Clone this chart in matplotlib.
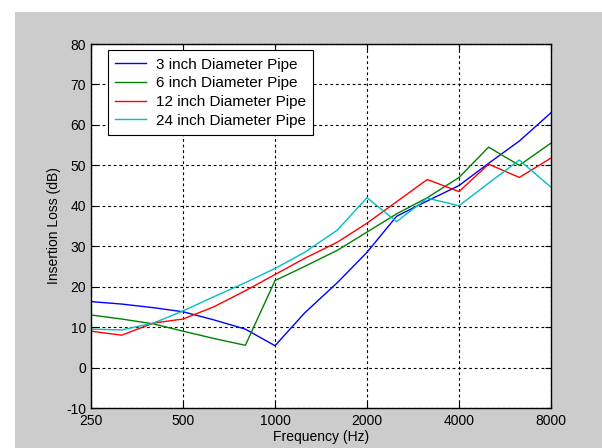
import matplotlib
matplotlib.use("Agg")
import matplotlib.pyplot as plt
from matplotlib.patches import Rectangle
from matplotlib.ticker import FixedLocator, NullLocator

plt.rcParams["font.family"] = ["Liberation Sans", "DejaVu Sans"]
plt.rcParams["axes.unicode_minus"] = False

# 1/3-octave band centre frequencies (Hz)
freqs = [250, 315, 400, 500, 630, 800, 1000, 1250, 1600, 2000,
         2500, 3150, 4000, 5000, 6300, 8000]

# Insertion loss (dB) per pipe diameter
loss_3in = [16.3, 15.7, 14.8, 13.8, 11.8, 9.5, 5.4, 13.5, 21.0, 28.5,
            37.4, 41.2, 45.0, 50.5, 56.0, 63.0]
loss_6in = [13.0, 12.0, 10.8, 9.0, 7.2, 5.5, 21.5, 25.0, 29.0, 33.5,
            38.0, 42.0, 47.0, 54.5, 50.0, 55.5]
loss_12in = [9.0, 8.0, 11.0, 12.0, 15.0, 19.0, 23.0, 27.0, 31.0, 35.7,
             41.0, 46.5, 43.5, 50.3, 47.0, 51.8]
loss_24in = [9.5, 9.3, 11.0, 14.0, 17.5, 21.0, 24.5, 28.5, 34.0, 42.0,
             36.1, 41.9, 40.0, 45.6, 51.3, 44.6]

series = [
    ("3 inch Diameter Pipe", loss_3in, (0.0, 0.0, 1.0)),
    ("6 inch Diameter Pipe", loss_6in, (0.0, 0.5, 0.0)),
    ("12 inch Diameter Pipe", loss_12in, (1.0, 0.0, 0.0)),
    ("24 inch Diameter Pipe", loss_24in, (0.0, 0.75, 0.75)),
]

xticks = [250, 500, 1000, 2000, 4000, 8000]
yticks = list(range(-10, 81, 10))

fig = plt.figure(figsize=(6.02, 4.48), dpi=100, facecolor="white")
# grey figure area (screenshot has a thin white margin top/left)
fig.patches.append(Rectangle((15 / 602, 0), 1 - 15 / 602, 1 - 12 / 448,
                             transform=fig.transFigure, facecolor="#cccccc",
                             edgecolor="none", zorder=-10))

ax = fig.add_axes([91 / 602, 40 / 448, 460 / 602, 364 / 448])
ax.set_facecolor("white")

for label, vals, col in series:
    ax.plot(freqs, vals, color=col, lw=1.0, label=label)

ax.set_xscale("log")
ax.set_xlim(250, 8000)
ax.set_ylim(-10, 80)
ax.xaxis.set_major_locator(FixedLocator(xticks))
ax.xaxis.set_minor_locator(NullLocator())
ax.set_xticklabels([str(t) for t in xticks])
ax.set_yticks(yticks)

ax.grid(True, which="major", color="black", linestyle=(0, (2.5, 2.5)), lw=0.8)
ax.tick_params(direction="in", top=True, right=True, length=4,
               labelsize=10, colors="black")
ax.tick_params(axis="x", pad=4)
ax.tick_params(axis="y", pad=3.5)
for s in ax.spines.values():
    s.set_color("black")
    s.set_linewidth(1.0)

ax.set_xlabel("Frequency (Hz)", fontsize=10, labelpad=2)
ax.set_ylabel("Insertion Loss (dB)", fontsize=10, labelpad=4)

leg = ax.legend(loc="upper left", bbox_to_anchor=(0.036, 0.983),
                borderaxespad=0, fontsize=11, fancybox=False, framealpha=1,
                edgecolor="black", handlelength=2.0, handletextpad=0.65,
                labelspacing=0.3, borderpad=0.5)
leg.get_frame().set_linewidth(0.8)

fig.savefig("out.png", dpi=100, facecolor=fig.get_facecolor())
